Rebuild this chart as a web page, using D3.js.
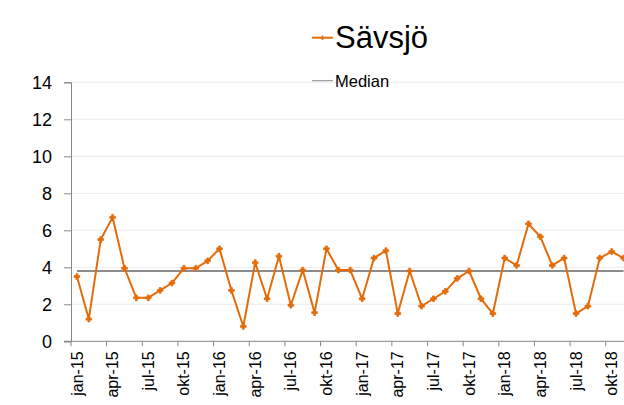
<!DOCTYPE html>
<html><head><meta charset="utf-8">
<script src="https://cdn.jsdelivr.net/npm/d3@7"></script>
<style>body{margin:0;background:#fff}svg{display:block;font-family:"Liberation Sans",Arial,sans-serif}</style>
</head><body><svg id="c" width="624" height="405"></svg>
<script>
const categories = ["jan-15","feb-15","mar-15","apr-15","maj-15","jun-15","jul-15","aug-15","sep-15","okt-15","nov-15","dec-15",
"jan-16","feb-16","mar-16","apr-16","maj-16","jun-16","jul-16","aug-16","sep-16","okt-16","nov-16","dec-16",
"jan-17","feb-17","mar-17","apr-17","maj-17","jun-17","jul-17","aug-17","sep-17","okt-17","nov-17","dec-17",
"jan-18","feb-18","mar-18","apr-18","maj-18","jun-18","jul-18","aug-18","sep-18","okt-18","nov-18"];
const savsjo = [3.5,1.2,5.5,6.7,3.95,2.35,2.35,2.75,3.15,3.95,3.95,4.35,
5.0,2.75,0.8,4.25,2.3,4.6,1.95,3.85,1.55,5.0,3.85,3.85,
2.3,4.5,4.9,1.5,3.8,1.9,2.3,2.7,3.4,3.8,2.3,1.5,
4.5,4.1,6.35,5.65,4.1,4.5,1.5,1.9,4.5,4.85,4.5];
const medianValue = 3.8;
const median = categories.map(() => medianValue);
const yTicks = [0,2,4,6,8,10,12,14];
const tickLabels = categories.filter((c,i) => i % 3 === 0);
const seriesNames = ["Sävsjö","Median"];

(function(){
const svg = d3.select("#c");
const left = 71, plotTop = 82.3, plotBottom = 341.3, step = 11.883;
const x = d3.scaleBand().domain(categories).range([left, left + categories.length*step]).padding(0);
const y = d3.scaleLinear().domain([0,14]).range([plotBottom, plotTop]);
const orange = "#e46c0a";

// gridlines
svg.append("g").selectAll("line").data(yTicks.filter(v=>v>0)).join("line")
  .attr("x1", left).attr("x2", 624).attr("y1", d=>y(d)).attr("y2", d=>y(d))
  .attr("stroke", "#ebebeb").attr("stroke-width", 1);

// y axis
const yAxis = svg.append("g").attr("transform", `translate(${left},0)`)
  .call(d3.axisLeft(y).tickValues(yTicks).tickSize(7).tickPadding(12));
yAxis.select(".domain").attr("stroke", "#888");
yAxis.selectAll(".tick line").attr("stroke", "#888");
yAxis.selectAll("text").attr("font-size", 18).attr("fill", "#000").attr("font-family", "Liberation Sans, Arial, sans-serif");

// x axis line
svg.append("line").attr("x1", left-7).attr("x2", 624).attr("y1", plotBottom).attr("y2", plotBottom).attr("stroke", "#888");
// x ticks at band starts every 3
svg.append("g").selectAll("line").data(categories.filter((c,i)=>i%3===0)).join("line")
  .attr("x1", d=>x(d)).attr("x2", d=>x(d)).attr("y1", plotBottom).attr("y2", plotBottom+5).attr("stroke", "#888");
// x labels
svg.append("g").selectAll("text").data(tickLabels).join("text")
  .attr("transform", d=>`translate(${x(d)+x.bandwidth()/2},${plotBottom+10}) rotate(-90)`)
  .attr("text-anchor", "end").attr("dy", "0.35em").attr("font-size", 16).attr("fill", "#000")
  .text(d=>d);

// median line
const line = d3.line().x((d,i)=>x(categories[i])+x.bandwidth()/2).y(d=>y(d));
svg.append("path").datum(median).attr("d", line).attr("fill","none").attr("stroke","#8c8c8c").attr("stroke-width",2);

// series
svg.append("path").datum(savsjo).attr("d", line).attr("fill","none").attr("stroke",orange).attr("stroke-width",2).attr("stroke-linejoin","round");
svg.append("g").selectAll("path").data(savsjo).join("path")
  .attr("transform",(d,i)=>`translate(${x(categories[i])+x.bandwidth()/2},${y(d)})`)
  .attr("d", d3.symbol(d3.symbolCross, 18)).attr("fill", orange).attr("stroke", orange).attr("stroke-width", 0.8);

// legend
const lg = svg.append("g");
lg.append("line").attr("x1",312).attr("x2",333).attr("y1",37.7).attr("y2",37.7).attr("stroke",orange).attr("stroke-width",2);
lg.append("path").attr("transform","translate(322.5,37.7)").attr("d", d3.symbol(d3.symbolCross, 12)).attr("fill",orange);
lg.append("text").attr("x",335).attr("y",47.7).attr("font-size",31).attr("fill","#000").text(seriesNames[0]);
lg.append("line").attr("x1",312).attr("x2",333).attr("y1",80.7).attr("y2",80.7).attr("stroke","#8c8c8c").attr("stroke-width",1);
lg.append("text").attr("x",335).attr("y",87.3).attr("font-size",16.5).attr("fill","#000").text(seriesNames[1]);
})();
</script></body></html>
